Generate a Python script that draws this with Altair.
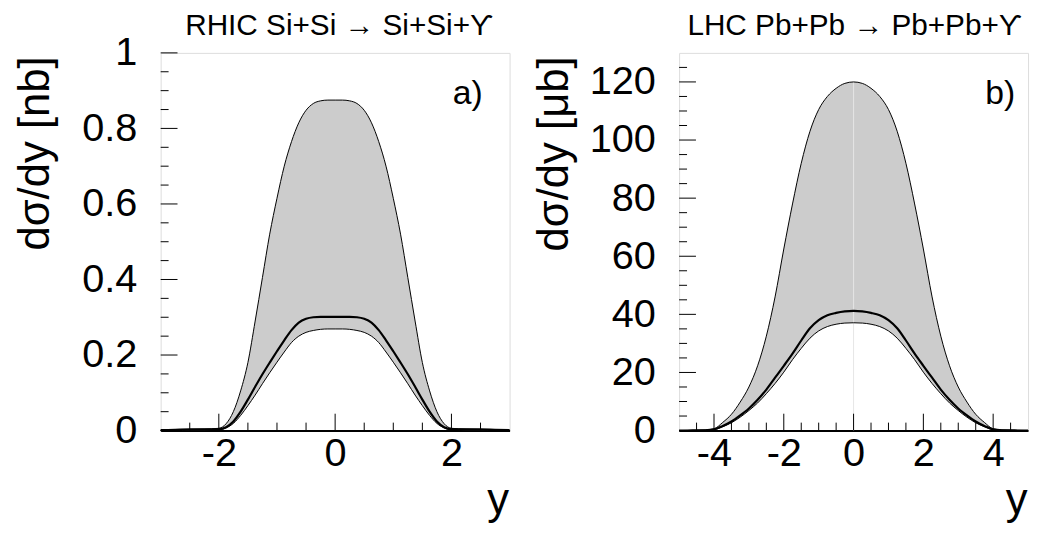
import altair as alt
import pandas as pd

FONT = "Liberation Sans"
W, H = 352, 381

# ---------------- panel a) RHIC Si+Si ----------------
xa = [-3, -2.75, -2.5, -2.25, -2, -1.875, -1.75, -1.625, -1.5, -1.375, -1.25, -1.125,
      -1, -0.875, -0.75, -0.625, -0.5, -0.375, -0.25, -0.125, 0,
      0.125, 0.25, 0.375, 0.5, 0.625, 0.75, 0.875, 1, 1.125, 1.25, 1.375, 1.5,
      1.625, 1.75, 1.875, 2, 2.25, 2.5, 2.75, 3]
up_a = [0, 0.001, 0.003, 0.004, 0.006, 0.018, 0.05, 0.105, 0.18, 0.29, 0.405, 0.52,
        0.615, 0.70, 0.765, 0.815, 0.848, 0.866, 0.873, 0.875, 0.875,
        0.875, 0.873, 0.866, 0.848, 0.815, 0.765, 0.70, 0.615, 0.52, 0.405, 0.29, 0.18,
        0.105, 0.05, 0.018, 0.006, 0.004, 0.003, 0.001, 0]
mid_a = [0.001, 0.002, 0.003, 0.003, 0.004, 0.009, 0.024, 0.05, 0.082, 0.116, 0.149, 0.18,
         0.21, 0.239, 0.266, 0.286, 0.296, 0.300, 0.301, 0.301, 0.301,
         0.301, 0.301, 0.300, 0.296, 0.286, 0.266, 0.239, 0.21, 0.18, 0.149, 0.116, 0.082,
         0.05, 0.024, 0.009, 0.004, 0.003, 0.003, 0.002, 0.001]
lo_a = [0, 0, 0.001, 0.001, 0.002, 0.007, 0.019, 0.04, 0.066, 0.094, 0.124, 0.153,
        0.181, 0.208, 0.233, 0.25, 0.26, 0.265, 0.268, 0.269, 0.269,
        0.269, 0.268, 0.265, 0.26, 0.25, 0.233, 0.208, 0.181, 0.153, 0.124, 0.094, 0.066,
        0.04, 0.019, 0.007, 0.002, 0.001, 0.001, 0, 0]
xa_major = [-2, 0, 2]
xa_minor = [-2.5, -1.5, -1, -0.5, 0.5, 1, 1.5, 2.5]
ya_major = [0, 0.2, 0.4, 0.6, 0.8, 1]
ya_minor = [0.05, 0.1, 0.15, 0.25, 0.3, 0.35, 0.45, 0.5, 0.55, 0.65, 0.7, 0.75, 0.85, 0.9, 0.95]

# ---------------- panel b) LHC Pb+Pb ----------------
xb = [-5, -4.75, -4.5, -4.25, -4, -3.75, -3.5, -3.25, -3, -2.75, -2.5, -2.25, -2, -1.75,
      -1.5, -1.25, -1, -0.75, -0.5, -0.25, 0,
      0.25, 0.5, 0.75, 1, 1.25, 1.5, 1.75, 2, 2.25, 2.5, 2.75, 3, 3.25, 3.5, 3.75, 4,
      4.25, 4.5, 4.75, 5]
up_b = [0, 0.05, 0.1, 0.2, 0.6, 2.8, 5.6, 9.8, 15.0, 22.3, 32.5, 46.0, 62.5, 78.0,
        92.0, 103.0, 110.5, 115.0, 117.8, 119.5, 120.0,
        119.5, 117.8, 115.0, 110.5, 103.0, 92.0, 78.0, 62.5, 46.0, 32.5, 22.3, 15.0, 9.8, 5.6, 2.8, 0.6,
        0.2, 0.1, 0.05, 0]
mid_b = [0, 0.02, 0.05, 0.1, 0.4, 1.6, 3.1, 5.2, 7.6, 10.6, 14.1, 18.2, 22.3, 26.5,
         31.0, 35.2, 38.0, 39.7, 40.5, 41.0, 41.2,
         41.0, 40.5, 39.7, 38.0, 35.2, 31.0, 26.5, 22.3, 18.2, 14.1, 10.6, 7.6, 5.2, 3.1, 1.6, 0.4,
         0.1, 0.05, 0.02, 0]
lo_b = [0, 0.01, 0.03, 0.1, 0.3, 1.3, 2.7, 4.6, 6.9, 9.5, 12.7, 16.2, 20.1, 24.4,
        28.3, 31.8, 34.3, 35.8, 36.6, 37.0, 37.1,
        37.0, 36.6, 35.8, 34.3, 31.8, 28.3, 24.4, 20.1, 16.2, 12.7, 9.5, 6.9, 4.6, 2.7, 1.3, 0.3,
        0.1, 0.03, 0.01, 0]
xb_major = [-4, -2, 0, 2, 4]
xb_minor = [-4.5, -3.5, -3, -2.5, -1.5, -1, -0.5, 0.5, 1, 1.5, 2.5, 3, 3.5, 4.5]
yb_major = [0, 20, 40, 60, 80, 100, 120]
yb_minor = [5, 10, 15, 25, 30, 35, 45, 50, 55, 65, 70, 75, 85, 90, 95, 105, 110, 115, 125]


def panel(x, up, mid, lo, xdom, ydom, xmaj, xmin, ymaj, ymin, ytitle, title, title_x, tag,
          tagx, center_rule=False):
    df = pd.DataFrame({"x": x, "up": up, "mid": mid, "lo": lo})
    xs = alt.Scale(domain=xdom, nice=False, zero=False)
    ys = alt.Scale(domain=ydom, nice=False, zero=False)
    xaxis = alt.Axis(values=xmaj, ticks=False, tickSize=0, grid=False, domain=True,
                     domainColor="black", domainWidth=2,
                     labelExpr="'' + datum.value", labelFont=FONT, labelFontSize=40,
                     labelPadding=3, labelColor="black", labelFlush=False, labelOverlap=False,
                     title="y", titleFont=FONT, titleFontSize=44, titleFontWeight="normal",
                     titleAlign="right", titleBaseline="alphabetic", titleX=W - 1, titleY=84,
                     titleColor="black")
    yaxis = alt.Axis(values=ymaj, ticks=False, tickSize=0, grid=False, domain=False,
                     labelExpr="'' + datum.value", labelFont=FONT, labelFontSize=40,
                     labelPadding=24, labelColor="black", labelFlush=False, labelOverlap=False,
                     title=ytitle, titleFont=FONT, titleFontSize=44, titleFontWeight="normal",
                     titleAngle=270, titleAlign="right", titleBaseline="alphabetic",
                     titleX=-113, titleY=3, titleColor="black")
    area = alt.Chart(df).mark_area(color="#cccccc", interpolate="monotone").encode(
        x=alt.X("x:Q", scale=xs, axis=xaxis),
        y=alt.Y("up:Q", scale=ys, axis=yaxis),
        y2="lo:Q",
    )
    layers = [area]
    if center_rule:
        cdf = pd.DataFrame({"x": [x[len(x) // 2]], "y0": [0], "y1": [up[len(up) // 2]]})
        layers.append(alt.Chart(cdf).mark_rule(color="#e6e6e6", strokeWidth=1).encode(
            x="x:Q", y="y0:Q", y2="y1:Q"))
    layers += [
        alt.Chart(df).mark_line(color="black", strokeWidth=1, interpolate="monotone").encode(
            x="x:Q", y="up:Q"),
        alt.Chart(df).mark_line(color="black", strokeWidth=1, interpolate="monotone").encode(
            x="x:Q", y="lo:Q"),
        alt.Chart(df).mark_line(color="black", strokeWidth=2.2, interpolate="monotone").encode(
            x="x:Q", y="mid:Q"),
        alt.Chart(pd.DataFrame({"t": xmaj})).mark_rule(color="black", strokeWidth=1).encode(
            x="t:Q", y=alt.value(H), y2=alt.value(H - 17)),
        alt.Chart(pd.DataFrame({"t": xmin})).mark_rule(color="black", strokeWidth=1).encode(
            x="t:Q", y=alt.value(H), y2=alt.value(H - 8)),
        alt.Chart(pd.DataFrame({"t": ymaj})).mark_rule(color="black", strokeWidth=1).encode(
            y="t:Q", x=alt.value(0), x2=alt.value(17)),
        alt.Chart(pd.DataFrame({"t": ymin})).mark_rule(color="black", strokeWidth=1).encode(
            y="t:Q", x=alt.value(0), x2=alt.value(8)),
        alt.Chart(pd.DataFrame({"label": [tag]})).mark_text(
            font=FONT, fontSize=34, align="right", baseline="alphabetic", color="black").encode(
            text="label:N", x=alt.value(tagx), y=alt.value(52)),
        alt.Chart(pd.DataFrame({"label": [title]})).mark_text(
            font=FONT, fontSize=30, align="center", baseline="alphabetic", color="black").encode(
            text="label:N", x=alt.value(title_x), y=alt.value(-18)),
    ]
    return alt.layer(*layers).properties(width=W, height=H)


left = panel(xa, up_a, mid_a, lo_a, [-3, 3], [0, 1], xa_major, xa_minor, ya_major, ya_minor,
             "dσ/dy [nb]", "RHIC Si+Si → Si+Si+ϒ", W / 2 + 4, "a)", 325)
right = panel(xb, up_b, mid_b, lo_b, [-5, 5], [0, 130], xb_major, xb_minor, yb_major, yb_minor,
              "dσ/dy [μb]", "LHC Pb+Pb → Pb+Pb+ϒ", W / 2 + 1, "b)", 339, center_rule=True)

chart = alt.hconcat(left, right, spacing=17).configure_view(
    stroke="black", strokeWidth=1
).configure(background="white", padding={"left": 5, "top": 0, "right": 0, "bottom": 0})

chart.save("out.html", embed_options={"renderer": "svg", "actions": False})
